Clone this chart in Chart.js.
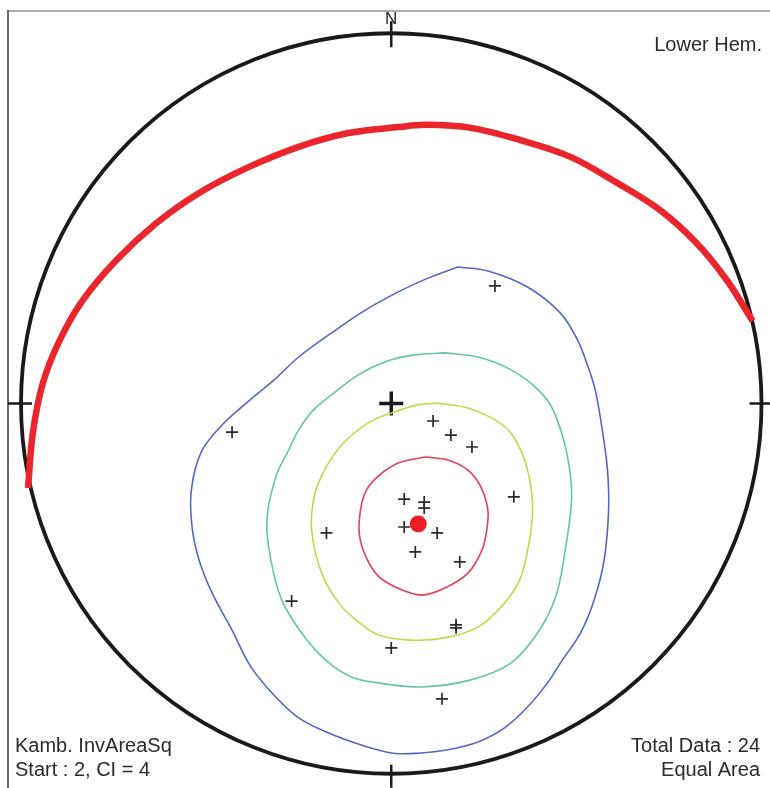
<!DOCTYPE html>
<html>
<head>
<meta charset="utf-8">
<script src="https://cdn.jsdelivr.net/npm/chart.js@4/dist/chart.umd.min.js"></script>
<style>
html,body{margin:0;padding:0;background:#fff;}
canvas{display:block;}
</style>
</head>
<body>
<canvas id="c" width="770" height="788"></canvas>
<script>
// Coordinates in percent of the primitive circle radius (centre = 0,0; N = +y; E = +x)
const poles = [
  [28.0,31.6],[-43.0,-7.7],[11.3,-4.7],[16.1,-8.5],[21.8,-11.7],[33.1,-25.1],
  [3.5,-25.7],[8.9,-26.5],[8.9,-28.1],[3.5,-33.2],[12.4,-34.8],[6.5,-39.9],
  [18.5,-42.6],[-17.5,-34.8],[-26.9,-53.1],[17.5,-60.3],[17.5,-59.5],
  [0.0,-65.7],[13.7,-79.4]
];
const meanPole = [[7.3,-32.4]];
const contour2 = [
  [18.0,36.7],[26.1,35.6],[36.8,31.3],[45.7,24.3],[50.3,17.1],[53.0,10.3],[55.1,3.6],
  [57.0,-7.1],[58.4,-17.9],[58.7,-28.6],[57.5,-42.1],[54.8,-52.8],[51.1,-61.7],
  [46.2,-69.0],[42.2,-75.1],[36.8,-81.6],[30.6,-87.2],[23.4,-91.0],[15.3,-93.1],
  [7.3,-94.0],[0.5,-94.0],[-8.1,-91.8],[-16.9,-88.6],[-25.0,-84.5],[-31.2,-78.9],
  [-37.9,-70.8],[-43.0,-60.9],[-48.4,-50.9],[-51.9,-42.1],[-53.8,-33.2],[-54.0,-23.3],
  [-51.3,-13.0],[-45.7,-5.8],[-38.2,0.9],[-31.7,6.3],[-25.0,12.5],[-16.1,19.0],
  [-7.0,25.1],[1.9,30.0],[9.9,33.7],[18.0,36.7]
];
const contour6 = [
  [14.5,13.6],[23.4,12.5],[31.5,9.5],[38.2,5.0],[43.0,-0.4],[46.2,-8.5],[48.1,-17.1],
  [48.7,-25.9],[47.0,-39.4],[44.4,-52.0],[39.5,-61.7],[32.3,-69.8],[21.5,-74.3],
  [8.1,-76.2],[-3.5,-75.1],[-10.8,-73.5],[-17.7,-69.0],[-24.2,-61.7],[-29.6,-52.8],
  [-32.5,-42.1],[-33.6,-31.3],[-31.2,-19.8],[-27.7,-12.5],[-25.0,-7.1],[-21.0,-1.7],
  [-15.1,3.1],[-8.9,7.7],[-1.6,11.2],[5.9,13.0],[14.5,13.6]
];
const contour10 = [
  [12.6,0.1],[20.7,-1.2],[28.0,-4.4],[32.3,-7.9],[35.5,-13.8],[37.4,-20.6],[38.2,-28.6],
  [37.1,-38.0],[34.7,-47.4],[30.1,-54.2],[23.4,-60.1],[14.5,-63.0],[5.4,-63.6],
  [-3.5,-62.2],[-8.9,-58.7],[-14.2,-53.6],[-18.8,-45.6],[-21.5,-34.0],[-20.7,-24.6],
  [-17.7,-17.3],[-12.9,-10.6],[-6.2,-5.2],[0.0,-2.6],[7.3,-0.3],[12.6,0.1]
];
const contour14 = [
  [9.1,-14.4],[15.3,-15.2],[20.7,-17.9],[24.2,-22.4],[26.1,-28.6],[25.8,-34.0],
  [24.5,-39.4],[20.7,-45.6],[14.5,-49.6],[8.1,-51.5],[1.1,-49.3],[-3.5,-46.4],
  [-6.7,-41.5],[-8.6,-35.3],[-8.3,-28.6],[-6.7,-23.3],[-3.5,-19.5],[1.9,-16.0],[9.1,-14.4]
];
const greatCircle = [
  [-98.1,-22.7],[-96.8,-7.9],[-94.1,5.5],[-89.5,17.1],[-83.3,27.8],[-74.2,38.6],
  [-63.4,48.5],[-51.9,56.6],[-38.4,63.6],[-25.0,69.0],[-11.6,72.7],[1.9,74.3],
  [9.4,74.9],[21.5,74.1],[34.9,70.8],[48.4,66.3],[61.0,59.3],[72.6,52.0],
  [82.5,43.1],[90.6,33.2],[97.6,22.2]
];
const textsLeft = ["Kamb. InvAreaSq", "Start : 2, CI = 4"];
const textsRight = ["Total Data : 24", "Equal Area"];
const hemisphere = "Lower Hem.";
const northLabel = "N";

const pts = a => a.map(p => ({x:p[0], y:p[1]}));

const netPlugin = {
  id: 'net',
  beforeDatasetsDraw(chart) {
    const ctx = chart.ctx, xs = chart.scales.x, ys = chart.scales.y;
    const cx = xs.getPixelForValue(0), cy = ys.getPixelForValue(0);
    const r = xs.getPixelForValue(100) - cx;
    ctx.save();
    // frame
    ctx.lineWidth = 2;
    ctx.strokeStyle = '#aaaaaa';
    ctx.beginPath(); ctx.moveTo(8, 11); ctx.lineTo(770, 11); ctx.stroke();
    ctx.strokeStyle = '#666666';
    ctx.beginPath(); ctx.moveTo(8, 10); ctx.lineTo(8, 788); ctx.stroke();
    // primitive circle
    ctx.strokeStyle = '#1a1a1a';
    ctx.lineWidth = 3.8;
    ctx.beginPath(); ctx.arc(cx, cy, r, 0, Math.PI*2); ctx.stroke();
    // ticks N E S W
    ctx.lineWidth = 2.5;
    ctx.beginPath();
    ctx.moveTo(cx, cy - r - 12); ctx.lineTo(cx, cy - r + 14);
    ctx.moveTo(cx, cy + r - 9); ctx.lineTo(cx, cy + r + 14);
    ctx.moveTo(cx - r - 13, cy); ctx.lineTo(cx - r + 11, cy);
    ctx.moveTo(cx + r - 12, cy); ctx.lineTo(cx + r + 12, cy);
    ctx.stroke();
    // centre cross
    ctx.lineWidth = 3.5;
    ctx.beginPath();
    ctx.moveTo(cx - 12, cy); ctx.lineTo(cx + 12, cy);
    ctx.moveTo(cx, cy - 12); ctx.lineTo(cx, cy + 12);
    ctx.stroke();
    ctx.restore();
  },
  afterDraw(chart) {
    const ctx = chart.ctx, xs = chart.scales.x, ys = chart.scales.y;
    const cx = xs.getPixelForValue(0), cy = ys.getPixelForValue(0);
    const r = xs.getPixelForValue(100) - cx;
    ctx.save();
    ctx.fillStyle = '#2a2a2a';
    ctx.textBaseline = 'middle';
    ctx.font = '17px "Liberation Sans", Arial, sans-serif';
    ctx.textAlign = 'center';
    ctx.fillText(northLabel, cx, cy - r - 14);
    ctx.font = '20px "Liberation Sans", Arial, sans-serif';
    ctx.textAlign = 'right';
    ctx.fillText(hemisphere, 762, 45);
    ctx.fillText(textsRight[0], 760, 746);
    ctx.fillText(textsRight[1], 760, 770);
    ctx.textAlign = 'left';
    ctx.fillText(textsLeft[0], 15, 746);
    ctx.fillText(textsLeft[1], 15, 770);
    ctx.restore();
  }
};

const lineDs = (data, color, width) => ({
  type: 'line', data: pts(data), borderColor: color, borderWidth: width,
  pointRadius: 0, fill: false, tension: 0.35, clip: false, showLine: true
});

new Chart(document.getElementById('c'), {
  type: 'scatter',
  data: {
    datasets: [
      lineDs(contour2, '#5466c6', 1.6),
      lineDs(contour6, '#63c4ab', 1.6),
      lineDs(contour10, '#c5d54c', 1.6),
      lineDs(contour14, '#e2415a', 1.6),
      lineDs(greatCircle, '#ea262c', 6.5),
      { type: 'scatter', data: pts(poles), pointStyle: 'cross', pointRadius: 6,
        borderColor: '#2a2a2a', borderWidth: 1.7, clip: false },
      { type: 'scatter', data: pts(meanPole), pointStyle: 'circle', pointRadius: 8.5,
        backgroundColor: '#ee1c24', borderColor: '#ee1c24', borderWidth: 0, clip: false }
    ]
  },
  options: {
    responsive: false,
    animation: false,
    devicePixelRatio: 1,
    layout: { padding: { left: 21, right: 5, top: 31.5, bottom: 12.5 } },
    plugins: { legend: { display: false }, tooltip: { enabled: false } },
    scales: {
      x: { type: 'linear', min: -100, max: 100, display: false },
      y: { type: 'linear', min: -100, max: 100, display: false }
    }
  },
  plugins: [netPlugin]
});
</script>
</body>
</html>
